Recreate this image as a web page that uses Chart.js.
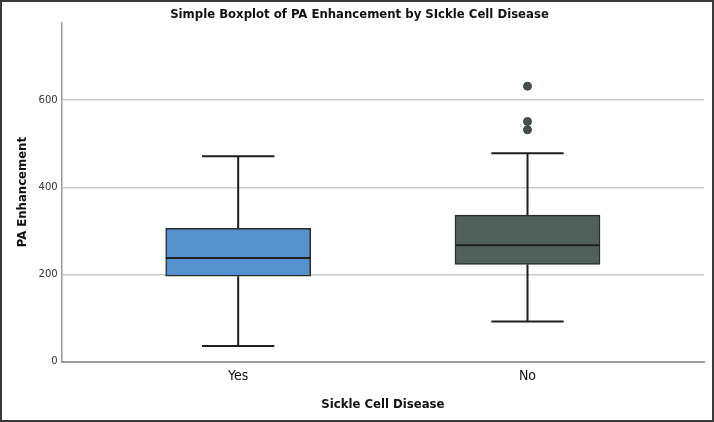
<!DOCTYPE html>
<html>
<head>
<meta charset="utf-8">
<script src="https://cdn.jsdelivr.net/npm/chart.js@4/dist/chart.umd.min.js"></script>
<style>
  html, body { margin: 0; padding: 0; background: #fff; }
  #wrap { width: 710px; height: 418px; border: 2px solid #3a3a3a; background: #fff; }
</style>
</head>
<body>
<div id="wrap"><canvas id="myChart" width="710" height="418"></canvas></div>
<script>
"use strict";

const categories = ["Yes", "No"];
const lowerWhisker = [36, 92];
const q1 = [196, 223];
const median = [238, 267];
const q3 = [306, 336];
const upperWhisker = [471, 478];
const outliers = [[], [632, 551, 532]];
const yTicks = [0, 200, 400, 600];
const boxColors = ["#5590cf", "#51605a"];

// category i sits at x = i + 1 on a linear axis
const boxData = categories.map((c, i) => ({ x: i + 1, y: [q1[i], q3[i]] }));
const outlierData = [];
outliers.forEach((list, i) => list.forEach((v) => outlierData.push({ x: i + 1, y: v })));

// whiskers, caps and medians drawn through the chart scales
const boxPlotLines = {
  id: "boxPlotLines",
  afterDatasetsDraw(chart) {
    const ctx = chart.ctx;
    const xs = chart.scales.x;
    const ys = chart.scales.y;
    ctx.save();
    ctx.strokeStyle = "#1e1e1e";
    ctx.lineCap = "butt";
    categories.forEach((c, i) => {
      const cx = xs.getPixelForValue(i + 1);
      const capL = xs.getPixelForValue(i + 1 - 0.125);
      const capR = xs.getPixelForValue(i + 1 + 0.125);
      const boxL = xs.getPixelForValue(i + 1 - 0.25);
      const boxR = xs.getPixelForValue(i + 1 + 0.25);
      ctx.lineWidth = 2;
      ctx.beginPath();
      ctx.moveTo(cx, ys.getPixelForValue(q3[i]));
      ctx.lineTo(cx, ys.getPixelForValue(upperWhisker[i]));
      ctx.moveTo(cx, ys.getPixelForValue(q1[i]));
      ctx.lineTo(cx, ys.getPixelForValue(lowerWhisker[i]));
      ctx.moveTo(capL, ys.getPixelForValue(upperWhisker[i]));
      ctx.lineTo(capR, ys.getPixelForValue(upperWhisker[i]));
      ctx.moveTo(capL, ys.getPixelForValue(lowerWhisker[i]));
      ctx.lineTo(capR, ys.getPixelForValue(lowerWhisker[i]));
      ctx.stroke();
      ctx.beginPath();
      ctx.moveTo(boxL, ys.getPixelForValue(median[i]));
      ctx.lineTo(boxR, ys.getPixelForValue(median[i]));
      ctx.stroke();
    });
    ctx.restore();
  },
};

const font = "'Liberation Sans Narrow', 'DejaVu Sans Condensed', 'Liberation Sans', sans-serif";

new Chart("myChart", {
  data: {
    datasets: [
      {
        type: "bar",
        data: boxData,
        backgroundColor: boxColors,
        borderColor: "#2a2a2a",
        borderWidth: 1.5,
        borderSkipped: false,
        barThickness: 145,
        order: 2,
      },
      {
        type: "scatter",
        data: outlierData,
        pointRadius: 4,
        pointBackgroundColor: "#46504c",
        pointBorderColor: "#3a4440",
        pointBorderWidth: 1,
        order: 1,
      },
    ],
  },
  options: {
    responsive: false,
    animation: false,
    layout: { padding: { left: 13, right: 8, top: 0, bottom: 8 } },
    plugins: {
      legend: { display: false },
      tooltip: { enabled: false },
      title: {
        display: true,
        text: "Simple Boxplot of PA Enhancement by SIckle Cell Disease",
        color: "#111",
        font: { family: font, size: 13, weight: "bold" },
        padding: { top: 5, bottom: 0 },
      },
    },
    scales: {
      x: {
        type: "linear",
        offset: false,
        min: 0.39,
        max: 2.61,
        afterBuildTicks: (scale) => {
          scale.ticks = categories.map((c, i) => ({ value: i + 1 }));
        },
        ticks: {
          callback: (v) => categories[v - 1] || "",
          color: "#111",
          font: { family: font, size: 14 },
          padding: 6,
        },
        grid: { display: false, drawTicks: false, offset: false },
        border: { display: true, color: "#9a9a9a", width: 2 },
        title: {
          display: true,
          text: "Sickle Cell Disease",
          color: "#111",
          font: { family: font, size: 13, weight: "bold" },
          padding: { top: 6, bottom: 0 },
        },
      },
      y: {
        min: 0,
        max: 778,
        afterBuildTicks: (scale) => {
          scale.ticks = yTicks.map((v) => ({ value: v }));
        },
        ticks: {
          color: "#333",
          font: { family: "'DejaVu Sans', sans-serif", size: 10 },
          padding: 4,
        },
        grid: {
          color: (ctx) => (ctx.tick && ctx.tick.value === 0 ? "rgba(0,0,0,0)" : "#c8c8c8"),
          lineWidth: 1.5,
          drawTicks: false,
        },
        border: { display: true, color: "#9a9a9a", width: 1.5 },
        title: {
          display: true,
          text: "PA Enhancement",
          color: "#111",
          font: { family: font, size: 13, weight: "bold" },
          padding: { top: 0, bottom: 4 },
        },
      },
    },
  },
  plugins: [boxPlotLines],
});
</script>
</body>
</html>
